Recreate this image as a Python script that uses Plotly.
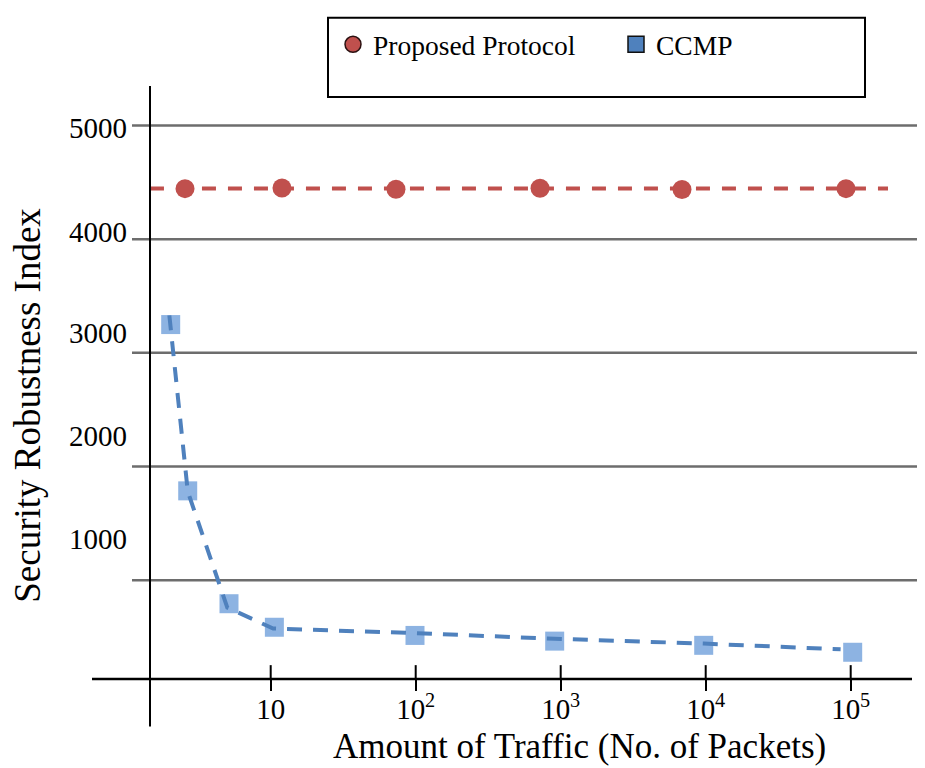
import plotly.graph_objects as go

# ---------------- data ----------------
proposed_x = [2.565, 11.96, 73.1, 720, 6864, 92800]
proposed_y = [4445, 4450, 4440, 4448, 4438, 4445]
proposed_line_x = [1.47, 180800]
proposed_line_y = [4447, 4447]

ccmp_x = [2.043, 2.677, 5.157, 10.6, 98.9, 909, 9688, 103200]
ccmp_y = [3249, 1786, 793, 586, 514, 464, 427, 366]
ccmp_line_x = [2.0, 2.68, 5.02, 10.4, 98.9, 909, 9688, 85200]
ccmp_line_y = [3330, 1780, 759, 575, 534, 485, 442, 392]

x_tickvals = [10, 100, 1000, 10000, 100000]
x_ticktext = ["10", "10<sup>2</sup>", "10<sup>3</sup>", "10<sup>4</sup>", "10<sup>5</sup>"]

y_grid_vals = [1000, 2000, 3000, 4000, 5000]
y_tick_labels = ["1000", "2000", "3000", "4000", "5000"]
y_tick_label_pos = [1362, 2265, 3171, 4064, 4978]

# ---------------- layout helpers ----------------
W, H = 925, 768
OFF = 8  # page body margin offset
PL, PR, PT, PB = 92 - OFF, 918 - OFF, 80 - OFF, 679 - OFF  # plot area in pixels
def px_x(p):
    return (p - OFF - PL) / (PR - PL)
def px_y(p):
    return (PB - (p - OFF)) / (PB - PT)

FONT = "Liberation Serif, Times New Roman, serif"
RED = "#C0504D"
BLUE = "#4F81BD"
BLUE_LIGHT = "#8DB3E2"

fig = go.Figure()

fig.add_trace(go.Scatter(x=proposed_line_x, y=proposed_line_y, mode="lines",
                         line=dict(color=RED, width=4, dash="14px,12px"),
                         showlegend=False, hoverinfo="skip"))
fig.add_trace(go.Scatter(x=proposed_x, y=proposed_y, mode="markers",
                         marker=dict(symbol="circle", size=19, color=RED),
                         showlegend=False))
fig.add_trace(go.Scatter(x=ccmp_x, y=ccmp_y, mode="markers",
                         marker=dict(symbol="square", size=19, color=BLUE_LIGHT),
                         showlegend=False))
fig.add_trace(go.Scatter(x=ccmp_line_x, y=ccmp_line_y, mode="lines",
                         line=dict(color=BLUE, width=4, dash="15px,11px"),
                         showlegend=False, hoverinfo="skip"))

# legend-only entries
fig.add_trace(go.Scatter(x=[None], y=[None], mode="markers", name="Proposed Protocol",
                         marker=dict(symbol="circle", size=19, color=RED,
                                     line=dict(color="#2a1010", width=1.5))))
fig.add_trace(go.Scatter(x=[None], y=[None], mode="markers", name="CCMP",
                         marker=dict(symbol="square", size=19, color=BLUE,
                                     line=dict(color="#101010", width=1.5))))

shapes = []
for v in y_grid_vals:
    shapes.append(dict(type="line", xref="paper", yref="y",
                       x0=px_x(132), x1=1.0, y0=v, y1=v,
                       line=dict(color="#6d6d6d", width=2.5), layer="below"))
shapes.append(dict(type="line", xref="paper", yref="paper",
                   x0=px_x(150), x1=px_x(150), y0=px_y(727), y1=1.0,
                   line=dict(color="black", width=2)))
shapes.append(dict(type="line", xref="paper", yref="paper",
                   x0=0, x1=px_x(912), y0=0, y1=0,
                   line=dict(color="black", width=2.5)))
for v in x_tickvals:
    shapes.append(dict(type="line", xref="x", yref="paper",
                       x0=v, x1=v, y0=0, y1=px_y(665),
                       line=dict(color="black", width=2)))
shapes.append(dict(type="rect", xref="paper", yref="paper",
                   x0=px_x(328), x1=px_x(865), y0=px_y(91), y1=px_y(11),
                   line=dict(color="black", width=2), fillcolor="rgba(0,0,0,0)"))

annotations = []
for lab, pos in zip(y_tick_labels, y_tick_label_pos):
    annotations.append(dict(text=lab, xref="paper", yref="y", x=px_x(129), y=pos,
                            xanchor="right", yanchor="middle", showarrow=False,
                            font=dict(family=FONT, size=29, color="black")))
annotations.append(dict(text="Amount of Traffic (No. of Packets)", xref="paper", yref="paper",
                        x=px_x(579), y=px_y(747), xanchor="center", yanchor="middle",
                        showarrow=False, font=dict(family=FONT, size=35, color="black")))
annotations.append(dict(text="Security Robustness Index", xref="paper", yref="paper",
                        x=px_x(28), y=px_y(403), xanchor="center", yanchor="middle",
                        textangle=-90, showarrow=False,
                        font=dict(family=FONT, size=37, color="black")))

fig.update_layout(
    width=W, height=H,
    margin=dict(l=PL, r=W - PR, t=PT, b=H - PB, pad=0),
    paper_bgcolor="white", plot_bgcolor="white",
    font=dict(family=FONT, color="black"),
    xaxis=dict(type="log", range=[-0.2324, 5.4641], tickvals=x_tickvals, ticktext=x_ticktext,
               ticks="outside", ticklen=11, tickwidth=2, tickcolor="black",
               ticklabelstandoff=-7,
               showgrid=False, zeroline=False, showline=False,
               tickfont=dict(family=FONT, size=29, color="black")),
    yaxis=dict(range=[130.7, 5348], showticklabels=False, showgrid=False,
               zeroline=False, showline=False, ticks=""),
    legend=dict(orientation="h", x=px_x(333), y=px_y(38), xanchor="left", yanchor="middle",
                bgcolor="rgba(0,0,0,0)", borderwidth=0,
                font=dict(family=FONT, size=27.5, color="black"),
                entrywidth=238, entrywidthmode="pixels", itemsizing="trace"),
    shapes=shapes, annotations=annotations,
)

fig.write_html("out.html")
